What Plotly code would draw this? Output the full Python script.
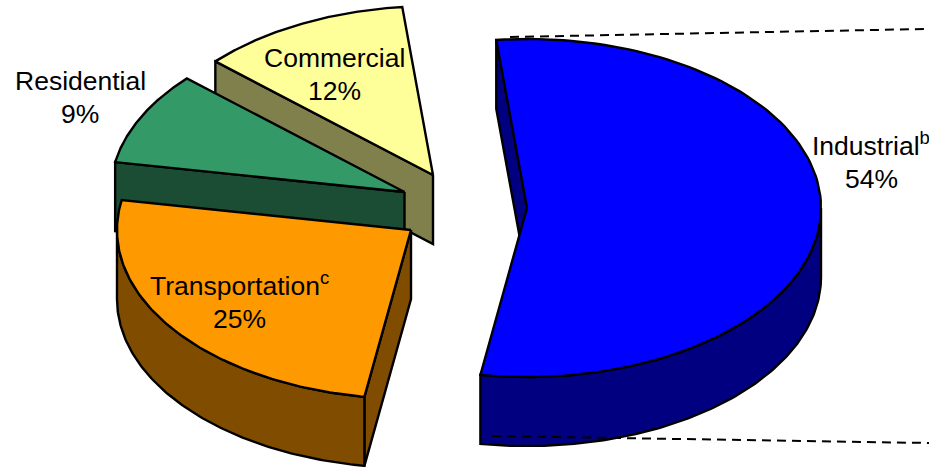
import numpy as np
import plotly.graph_objects as go

# Data (share of total, %), in clockwise order from the first slice
categories = ["Industrial", "Transportation", "Residential", "Commercial"]
values = [54.2, 25.3, 8.9, 11.6]
shown_percent = ["54%", "25%", "9%", "12%"]
label_marks = ["b", "c", "", ""]

# Style
top_colors = ["#0000FF", "#FF9900", "#339966", "#FFFF99"]
side_colors = ["#000080", "#804D00", "#1A4D33", "#80804D"]
draw_order = [3, 2, 1, 0]

# Projection of the 3-D pie onto the page (pixels)
W, H = 929, 467
RX, RY, DEPTH = 294, 169, 69
START_DEG = -6.0
BASE = (462, 205)
EXPLODE = [(65, 3), (-51, 25), (-57.5, -13), (-29, -30)]
LABEL_AT = [(871, 162.5), (239, 302.5), (80, 97), (334, 74.5)]
LINE_GAP = 33
SUP_SHIFT = 2
EDGE = dict(color="black", width=2.4)
DASH = dict(color="black", width=2, dash="9px,6px")

fig = go.Figure()


def add_poly(xs, ys, fill):
    fig.add_trace(go.Scatter(
        x=list(xs) + [xs[0]], y=list(ys) + [ys[0]], mode="lines",
        fill="toself", fillcolor=fill, line=EDGE, hoverinfo="skip", showlegend=False,
    ))


def rim(cx, cy, a, b, n=120):
    t = np.radians(np.linspace(a, b, n))
    return cx + RX * np.sin(t), cy - RY * np.cos(t)


spans = np.array(values) / sum(values) * 360
starts = START_DEG + np.concatenate([[0], np.cumsum(spans)[:-1]])

for i in draw_order:
    a, b = starts[i], starts[i] + spans[i]
    cx, cy = BASE[0] + EXPLODE[i][0], BASE[1] + EXPLODE[i][1]
    # radial wall on the start edge (the one that faces the viewer)
    sx, sy = rim(cx, cy, a, a, 1)
    add_poly([cx, sx[0], sx[0], cx], [cy, sy[0], sy[0] + DEPTH, cy + DEPTH], side_colors[i])
    # curved outer wall, only the front half of the rim is visible
    lo, hi = max(a, 90), min(b, 270)
    if hi > lo:
        wx, wy = rim(cx, cy, lo, hi)
        add_poly(np.r_[wx, wx[::-1]], np.r_[wy, wy[::-1] + DEPTH], side_colors[i])
    # top face
    tx, ty = rim(cx, cy, a, b)
    add_poly(np.r_[cx, tx], np.r_[cy, ty], top_colors[i])

# Dashed guide lines from the exploded Industrial slice
fig.add_trace(go.Scatter(x=[510, 925], y=[37, 29], mode="lines", hoverinfo="skip",
                         showlegend=False, line=DASH))
fig.add_trace(go.Scatter(x=[492, 929], y=[436, 443], mode="lines", hoverinfo="skip",
                         showlegend=False, line=DASH))

for name, pct, mark, (lx, ly) in zip(categories, shown_percent, label_marks, LABEL_AT):
    sup = f"<sup>{mark}</sup>" if mark else ""
    first_y = ly - LINE_GAP / 2 - (SUP_SHIFT if mark else 0)
    for text, yy in ((name + sup, first_y), (pct, ly + LINE_GAP / 2)):
        fig.add_annotation(x=lx, y=yy, text=text, showarrow=False,
                           xanchor="center", yanchor="middle",
                           font=dict(family="Liberation Sans", size=26.5, color="black"))

fig.update_layout(
    width=W, height=H, margin=dict(l=0, r=0, t=0, b=0),
    paper_bgcolor="white", plot_bgcolor="white", showlegend=False,
    xaxis=dict(range=[0, W], visible=False, fixedrange=True),
    yaxis=dict(range=[H, 0], visible=False, fixedrange=True),
)
fig.write_html("out.html", config={"displayModeBar": False},
               post_script="document.body.style.margin='0';document.body.style.overflow='hidden';")
